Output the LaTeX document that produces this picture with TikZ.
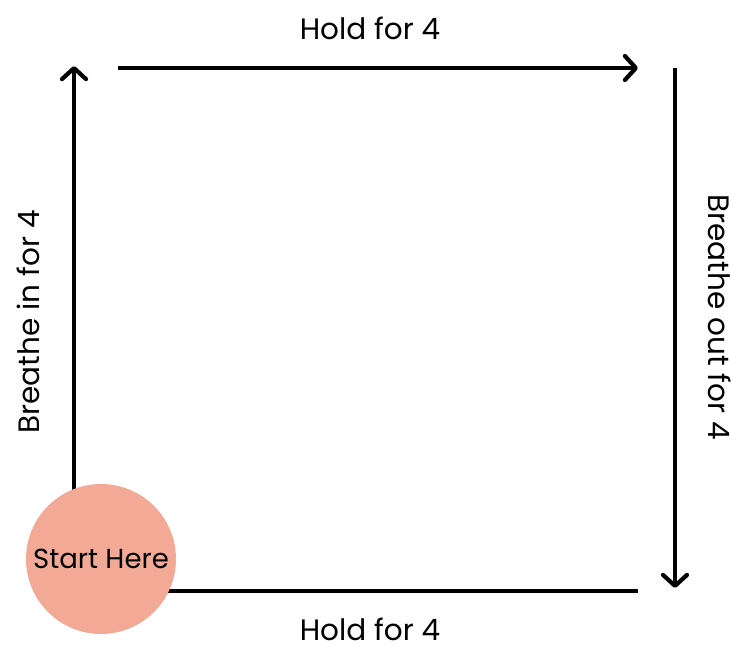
\documentclass[tikz,border=0pt]{standalone}
\usepackage{fontspec}
\setmainfont{Poppins}
\usetikzlibrary{arrows.meta}
\definecolor{startfill}{HTML}{F2AA96}
\tikzset{
  flow/.style={line width=4.2pt, line cap=butt,
    -{Straight Barb[length=11pt, width=24pt, line cap=round, line join=round]}},
  plain/.style={line width=4.2pt},
  lbl/.style={font=\fontsize{29.5}{32}\selectfont, inner sep=0pt},
  startdot/.style={circle, fill=startfill, minimum size=150pt, inner sep=0pt,
    font=\fontsize{27.5}{30}\selectfont},
}
\begin{document}
\begin{tikzpicture}[x=1pt, y=-1pt]
  \useasboundingbox (0,0) rectangle (731,647);
  % corner points of the box
  \coordinate (lb) at (74,492);
  \coordinate (lt) at (74,66);
  \coordinate (tl) at (118,68);
  \coordinate (tr) at (638,68);
  \coordinate (rt) at (675,68);
  \coordinate (rb) at (675,588);
  \coordinate (br) at (638,591);
  \coordinate (bl) at (165,591);
  % sides of the square
  \draw[flow] (lb) -- (lt);
  \draw[flow] (tl) -- (tr);
  \draw[flow] (rt) -- (rb);
  \draw[plain] (bl) -- (br);
  % start marker on top of the corner
  \node[startdot] (start) at (101,559) {Start Here};
  % labels
  \node[lbl] (ht) at (370,28) {Hold for 4};
  \node[lbl] (hb) at (370,629) {Hold for 4};
  \node[lbl, rotate=90] (bin) at (28,322) {Breathe in for 4};
  \node[lbl, rotate=-90] (bout) at (720,317) {Breathe out for 4};
\end{tikzpicture}
\end{document}
